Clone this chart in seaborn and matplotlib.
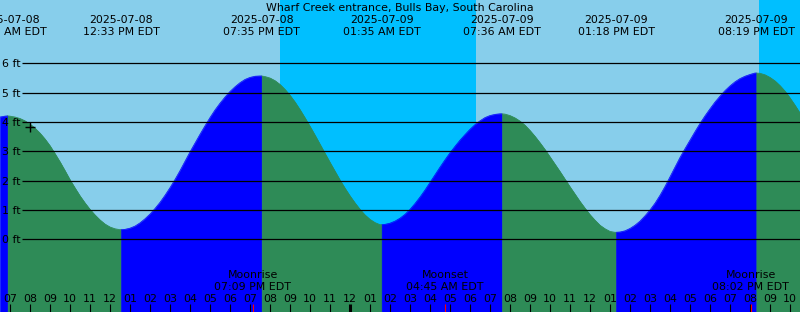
import numpy as np
import pandas as pd
import matplotlib
matplotlib.use("Agg")
import matplotlib.pyplot as plt
import seaborn as sns

# ---------------- data ----------------
TITLE = "Wharf Creek entrance, Bulls Bay, South Carolina"

# time axis: hours after 2025-07-08 07:00 EDT, one reading every 15 minutes
reading_hours = np.arange(-0.5, 39.5 + 0.125, 0.25)
reading_ft = [
    4.17, 4.20, 4.20, 4.17, 4.12, 4.04, 3.93, 3.79,
    3.62, 3.42, 3.19, 2.92, 2.64, 2.34, 2.03, 1.75,
    1.48, 1.24, 1.02, 0.83, 0.66, 0.52, 0.42, 0.36,
    0.33, 0.34, 0.38, 0.45, 0.56, 0.70, 0.86, 1.05,
    1.26, 1.50, 1.76, 2.04, 2.34, 2.66, 2.98, 3.28,
    3.58, 3.87, 4.15, 4.41, 4.64, 4.85, 5.04, 5.20,
    5.34, 5.45, 5.52, 5.56, 5.57, 5.55, 5.50, 5.41,
    5.28, 5.11, 4.91, 4.68, 4.42, 4.14, 3.85, 3.55,
    3.24, 2.93, 2.62, 2.32, 2.02, 1.74, 1.48, 1.24,
    1.02, 0.83, 0.68, 0.57, 0.50, 0.51, 0.55, 0.62,
    0.72, 0.85, 1.02, 1.22, 1.44, 1.68, 1.94, 2.20,
    2.46, 2.71, 2.95, 3.17, 3.38, 3.57, 3.75, 3.91,
    4.04, 4.15, 4.22, 4.26, 4.28, 4.27, 4.22, 4.14,
    4.03, 3.89, 3.71, 3.51, 3.29, 3.06, 2.81, 2.56,
    2.31, 2.05, 1.79, 1.54, 1.29, 1.06, 0.84, 0.65,
    0.48, 0.36, 0.27, 0.24, 0.25, 0.29, 0.37, 0.48,
    0.62, 0.80, 1.00, 1.23, 1.50, 1.80, 2.13, 2.46,
    2.79, 3.09, 3.38, 3.67, 3.95, 4.21, 4.45, 4.68,
    4.88, 5.07, 5.23, 5.37, 5.48, 5.56, 5.62, 5.67,
    5.66, 5.61, 5.52, 5.40, 5.24, 5.05, 4.82, 4.57,
    4.30,
]

extreme_hours = [-0.12, 5.55, 12.583, 18.583, 24.6, 30.3, 37.317]
extreme_ft = [4.21, 0.33, 5.57, 0.50, 4.28, 0.24, 5.67]
extreme_dates = ["2025-07-08", "2025-07-08", "2025-07-08", "2025-07-09",
                 "2025-07-09", "2025-07-09", "2025-07-09"]
extreme_times = ["06:53 AM EDT", "12:33 PM EDT", "07:35 PM EDT", "01:35 AM EDT",
                 "07:36 AM EDT", "01:18 PM EDT", "08:19 PM EDT"]

night_start = [13.5, 37.45]
night_end = [23.3, 40.0]

moon_hours = [12.15, 21.75, 37.033]
moon_events = ["Moonrise", "Moonset", "Moonrise"]
moon_times = ["07:09 PM EDT", "04:45 AM EDT", "08:02 PM EDT"]

hour_ticks = list(range(0, 40))
hour_labels = ["07", "08", "09", "10", "11", "12", "01", "02", "03", "04",
               "05", "06", "07", "08", "09", "10", "11", "12", "01", "02",
               "03", "04", "05", "06", "07", "08", "09", "10", "11", "12",
               "01", "02", "03", "04", "05", "06", "07", "08", "09", "10"]
midnight_hour = 17

now_hour = [1.0]
now_ft = [3.84]

level_ticks = [0, 1, 2, 3, 4, 5, 6]
level_labels = ["0 ft", "1 ft", "2 ft", "3 ft", "4 ft", "5 ft", "6 ft"]

# ---------------- styling / layout ----------------
DAY = "#87CEEB"
NIGHT = "#00BFFF"
RISE = "#0000FF"
FALL = "#2E8B57"

W_PX, H_PX = 800, 312
PX_PER_HOUR = 20.0
X_LEFT = -0.5
Y0_PX = 239.3       # pixel row of 0 ft
PX_PER_FT = 29.33
FS = 11 * 72 / 100  # 11 px text


def xpx(p):
    return X_LEFT + p / PX_PER_HOUR


def ypx(p):
    return (Y0_PX - p) / PX_PER_FT


sns.set_style("white")
plt.rcParams["font.family"] = ["DejaVu Sans"]
plt.rcParams["text.color"] = "black"

fig = plt.figure(figsize=(W_PX / 100, H_PX / 100), dpi=100)
ax = fig.add_axes([0, 0, 1, 1])
ybot = ypx(H_PX)


def frame():
    ax.set_xlim(xpx(0), xpx(W_PX))
    ax.set_ylim(ypx(H_PX), ypx(0))
    ax.set_axis_off()


frame()

# sky
ax.axvspan(xpx(0), xpx(W_PX), color=DAY, lw=0, zorder=0)
for a, b in zip(night_start, night_end):
    ax.axvspan(a, b, color=NIGHT, lw=0, zorder=0)

# tide table split into rising / falling segments
hours = np.array(list(reading_hours) + extreme_hours)
ft = np.array(reading_ft + extreme_ft)
order = np.argsort(hours, kind="stable")
hours, ft = hours[order], ft[order]
ext_idx = [int(np.where(np.isclose(hours, h))[0][0]) for h in extreme_hours]
bounds = [0] + ext_idx + [len(hours) - 1]
rows = []
for s, (a, b) in enumerate(zip(bounds[:-1], bounds[1:])):
    seg_h, seg_f = hours[a:b + 1], ft[a:b + 1]
    phase = "rising" if seg_f[-1] > seg_f[0] else "falling"
    for h, f in zip(seg_h, seg_f):
        rows.append(dict(hours=h, ft=f, segment=s, phase=phase))
df = pd.DataFrame(rows)
palette = {"rising": RISE, "falling": FALL}

for s, g in df.groupby("segment"):
    c = palette[g["phase"].iloc[0]]
    ax.fill_between(g["hours"], g["ft"], ybot, color=c, lw=0.4, ec=c, zorder=1)

sns.lineplot(data=df, x="hours", y="ft", hue="phase", units="segment",
             estimator=None, palette=palette, legend=False, lw=0.5, ax=ax,
             zorder=2)
frame()

# level lines and labels
ax.hlines(level_ticks, xpx(22), xpx(W_PX), colors="black", lw=0.9, zorder=3)
for lv, lab in zip(level_ticks, level_labels):
    ax.text(xpx(2), ypx(Y0_PX - lv * PX_PER_FT + 4), lab, fontsize=FS,
            ha="left", va="baseline", color="black", zorder=4)

# hour ticks
ax.vlines([h for h in hour_ticks if h != midnight_hour], ypx(312), ypx(304),
          colors="black", lw=0.8, zorder=3)
ax.vlines([midnight_hour], ypx(312), ypx(304), colors="black", lw=2.2, zorder=3)
ax.vlines(moon_hours, ypx(312), ypx(304), colors="red", lw=0.8, zorder=3)
for h, lab in zip(hour_ticks, hour_labels):
    ax.text(h, ypx(301.7), lab, fontsize=FS, ha="center", va="baseline",
            color="black", zorder=4)

# moon events
for h, ev, tm in zip(moon_hours, moon_events, moon_times):
    ax.text(h, ypx(278.3), ev, fontsize=FS, ha="center", va="baseline",
            color="black", zorder=4)
    ax.text(h, ypx(290.0), tm, fontsize=FS, ha="center", va="baseline",
            color="black", zorder=4)

# high / low labels
for h, d, tm in zip(extreme_hours, extreme_dates, extreme_times):
    ax.text(h, ypx(23.3), d, fontsize=FS, ha="center", va="baseline",
            color="black", zorder=4)
    ax.text(h, ypx(35.0), tm, fontsize=FS, ha="center", va="baseline",
            color="black", zorder=4)

# title
ax.text(xpx(400), ypx(11.0), TITLE, fontsize=FS, ha="center", va="baseline",
        color="black", zorder=4)

# "now" marker
sns.scatterplot(x=now_hour, y=now_ft, marker="+", s=45, color="black",
                linewidth=1.0, ax=ax, zorder=5, legend=False)
frame()

fig.savefig("out.png", dpi=100)
